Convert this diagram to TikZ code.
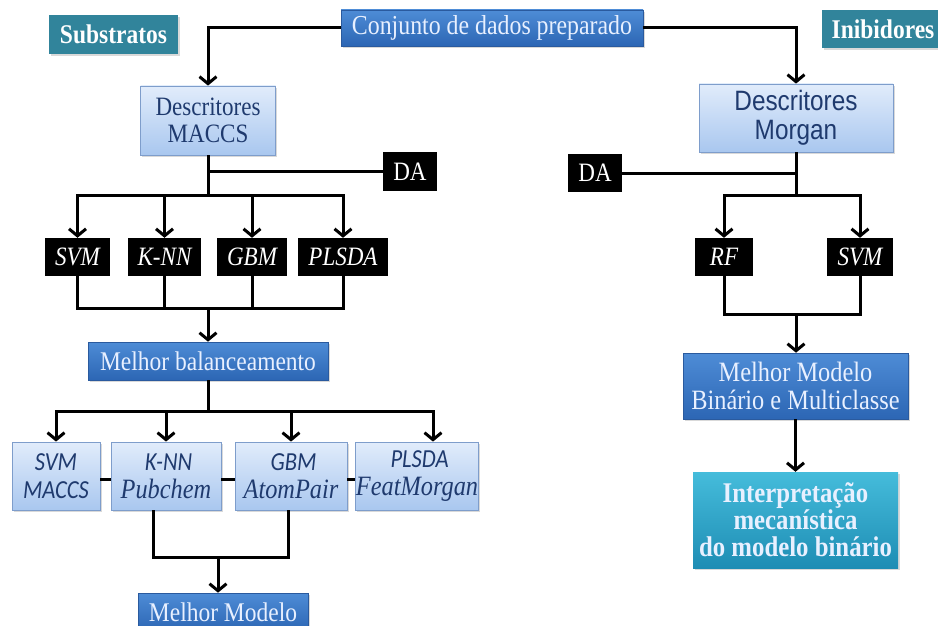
\documentclass[tikz,border=0pt]{standalone}
\usepackage{fontspec}
\setmainfont[FakeStretch=0.87]{Liberation Serif}
\newfontfamily\arialf[FakeStretch=0.87]{Liberation Sans}
\newfontfamily\calif[FakeStretch=0.87]{Carlito}
\usetikzlibrary{arrows.meta,shadows,calc}

\definecolor{tealfill}{HTML}{31849B}
\definecolor{midT}{HTML}{4E8CD6}
\definecolor{midB}{HTML}{2C66B4}
\definecolor{midedge}{HTML}{2A5A9E}
\definecolor{lightT}{HTML}{E1ECFB}
\definecolor{lightB}{HTML}{A9C7EF}
\definecolor{lightedge}{HTML}{7E9DCB}
\definecolor{navytext}{HTML}{1F3A6E}
\definecolor{paletext}{HTML}{E8F0FF}
\definecolor{cyanT}{HTML}{45BCDB}
\definecolor{cyanB}{HTML}{1E8DB4}

% size with a chosen line distance
\newcommand{\fsz}[2]{\fontsize{#1}{#2}\selectfont}

\tikzset{
  base/.style={rectangle, inner sep=0pt, align=center, font=\fsz{27}{24}},
  shad/.style={drop shadow={shadow xshift=1.5pt, shadow yshift=-2pt, opacity=0.3}},
  tealbox/.style={base, shad, fill=tealfill, text=white, font=\fsz{27}{24}\bfseries},
  darkbox/.style={base, shad, top color=midT, bottom color=midB, draw=midedge, line width=0.6pt, text=paletext},
  lightbox/.style={base, shad, top color=lightT, bottom color=lightB, draw=lightedge, line width=0.8pt, text=navytext},
  cyanbox/.style={base, shad, top color=cyanT, bottom color=cyanB, text=paletext, font=\fsz{28.5}{27}\bfseries},
  blackbox/.style={base, fill=black, text=white, font=\fsz{26.5}{24}},
  algo/.style={blackbox, minimum height=38, font=\fsz{26.5}{24}\itshape},
  conn/.style={line width=3pt, black},
  arr/.style={conn, -{Straight Barb[length=7pt,width=17pt]}},
}

\begin{document}
\begin{tikzpicture}[x=1pt, y=-1pt]
\useasboundingbox (0,0) rectangle (938,626);

% header boxes
\node[tealbox, minimum width=129, minimum height=39] (subs) at (113.5,34.5) {Substratos};
\node[darkbox, minimum width=302, minimum height=36, font=\fsz{27.4}{24}] (conj) at (492,28) {Conjunto de dados preparado};
\node[tealbox, minimum width=122, minimum height=38] (inib) at (883,29) {Inibidores};

% descriptor boxes
\node[lightbox, minimum width=135, minimum height=69, font=\fsz{26.5}{27}] (maccs) at (208,120.5) {Descritores\\MACCS};
\node[lightbox, minimum width=194, minimum height=68, font=\arialf\fsz{28}{28.5}] (morgan) at (796,118) {Descritores\\Morgan};

% data augmentation boxes
\node[blackbox, minimum width=54, minimum height=39] (daL) at (410,171.5) {DA};
\node[blackbox, minimum width=54, minimum height=38] (daR) at (595,173) {DA};

% algorithm boxes, left
\node[algo, minimum width=65] (svmA) at (77.5,257) {SVM};
\node[algo, minimum width=73] (knnA) at (164.5,257) {K-NN};
\node[algo, minimum width=70] (gbmA) at (252,257) {GBM};
\node[algo, minimum width=90] (plsA) at (343,257) {PLSDA};

% algorithm boxes, right
\node[algo, minimum width=58] (rfB) at (724,257) {RF};
\node[algo, minimum width=66] (svmB) at (860,257) {SVM};

% results, left
\node[darkbox, minimum width=240, minimum height=38] (bal) at (208,361) {Melhor balanceamento};

\node[lightbox, minimum width=88, minimum height=68, font=\calif\itshape\fsz{26}{28}] (cA) at (56,476) {SVM\\MACCS};
\node[lightbox, minimum width=110, minimum height=68, font=\fsz{28}{28}] (cB) at (166,476) {{\calif\itshape\fsz{26}{28} K-NN}\\{\itshape Pubchem}};
\node[lightbox, minimum width=112, minimum height=68, font=\fsz{28}{28}] (cC) at (291,476) {{\calif\itshape\fsz{26}{28} GBM}\\{\itshape AtomPair}};
\node[lightbox, minimum width=114, minimum height=68, font=\fsz{28}{28}] (cD) at (417,476) {{\calif\itshape\fsz{26}{28} PLSDA}\\{\itshape FeatMorgan}};

\node[darkbox, minimum width=170, minimum height=38] (mm) at (223,612) {Melhor Modelo};

% results, right
\node[darkbox, minimum width=225, minimum height=66, font=\fsz{28}{27.5}] (mbm) at (795.5,386) {Melhor Modelo\\Binário e Multiclasse};
\node[cyanbox, minimum width=205, minimum height=96] (interp) at (795.5,520) {Interpretação\\mecanística\\do modelo binário};

% connectors from the prepared data set
\draw[arr] (conj.west) -| (maccs.north);
\draw[arr] (conj.east) -| (morgan.north);

% left branch
\coordinate (jA) at (maccs.south |- 0,195);
\draw[conn] (maccs.south) -- (jA);
\draw[conn] (maccs.south |- daL.west) -- (daL.west);
\foreach \n in {svmA,knnA,gbmA,plsA}
  \draw[arr] (jA) -| (\n.north);
\coordinate (kA) at (maccs.south |- 0,308);
\foreach \n in {svmA,knnA,gbmA,plsA}
  \draw[conn] (\n.south) |- (kA);
\draw[arr] (kA) -- (bal.north);

\coordinate (jC) at (bal.south |- 0,411);
\draw[conn] (bal.south) -- (jC);
\foreach \n in {cA,cB,cC}
  \draw[arr] (jC) -| (\n.north);
\draw[arr] (jC) -| ([xshift=16pt]cD.north);

\draw[conn] ([yshift=-3pt]cA.east) -- ([yshift=-3pt]cB.west);
\draw[conn] ([yshift=-3pt]cB.east) -- ([yshift=-3pt]cC.west);
\draw[conn] ([yshift=-3pt]cC.east) -- ([yshift=-3pt]cD.west);

\coordinate (kC) at (218,557);
\draw[conn] ([xshift=-13pt]cB.south) |- (kC);
\draw[conn] ([xshift=-3pt]cC.south) |- (kC);
\draw[arr] (kC) -- (kC |- mm.north);

% right branch
\coordinate (jB) at (morgan.south |- 0,195);
\draw[conn] (morgan.south) -- (jB);
\draw[conn] (daR.east) -- (morgan.south |- daR.east);
\draw[arr] (jB) -| (rfB.north);
\draw[arr] (jB) -| (svmB.north);
\coordinate (kB) at (morgan.south |- 0,314);
\draw[conn] (rfB.south) |- (kB);
\draw[conn] (svmB.south) |- (kB);
\draw[arr] (kB) -- (kB |- mbm.north);
\draw[arr] (mbm.south) -- (interp.north);
\end{tikzpicture}
\end{document}
